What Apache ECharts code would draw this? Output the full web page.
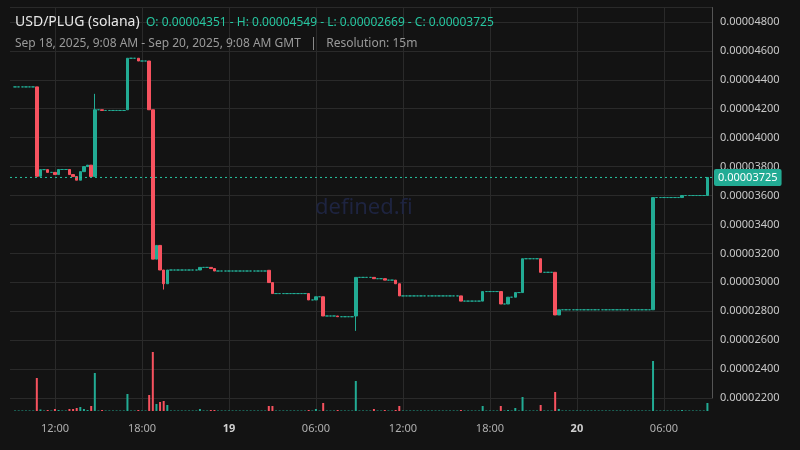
<!DOCTYPE html>
<html><head><meta charset="utf-8">
<script src="https://cdn.jsdelivr.net/npm/echarts@6/dist/echarts.min.js"></script>
<style>html,body{margin:0;background:#131313}#c{width:800px;height:450px}</style>
</head><body><div id="c"></div>
<script>
// Traded candles (values in 1e-6 USD); untraded 15m candles carry the previous close
const evTimes = ['18 10:45','18 11:00','18 11:30','18 12:00','18 12:15','18 13:00','18 13:15','18 13:30','18 13:45','18 14:00','18 14:15','18 14:30','18 14:45','18 15:15','18 17:00','18 17:45','18 18:30','18 18:45','18 19:00','18 19:15','18 19:30','18 19:45','18 22:00','18 22:45','18 23:00','19 02:45','19 03:00','19 05:30','19 06:00','19 06:30','19 07:30','19 08:45','19 10:00','19 10:45','19 11:30','19 11:45','19 16:00','19 17:30','19 18:45','19 19:15','19 19:45','19 20:15','19 21:30','19 22:30','19 22:45','20 05:15','20 07:15','20 09:00'];
const evOpen  = [43.51,37.33,37.79,37.6,37.45,37.8,37.45,37.31,37.06,37.65,38.0,38.1,37.31,41.93,41.93,45.49,45.3,41.93,31.6,32.55,30.85,29.9,30.85,31.03,30.95,30.83,29.98,29.22,28.78,29.0,27.67,27.67,30.34,30.25,30.15,29.9,29.06,28.7,29.36,28.5,28.97,29.29,31.63,30.69,27.74,28.1,35.86,36.0];
const evClose = [37.33,37.79,37.6,37.45,37.8,37.45,37.31,37.06,37.65,38.0,38.1,37.31,41.93,41.88,45.49,45.3,41.93,31.6,32.55,30.85,29.9,30.85,31.03,30.95,30.78,29.98,29.22,28.78,29.0,27.67,27.62,30.34,30.25,30.15,29.9,29.06,28.7,29.36,28.5,28.97,29.29,31.63,30.69,27.74,28.1,35.86,36.0,37.25];
const evHigh  = [43.51,37.79,37.79,37.6,37.8,37.8,37.45,37.31,37.65,38.0,38.1,38.1,43.03,41.93,45.49,45.49,45.3,41.93,32.55,32.55,30.85,30.85,31.03,31.03,30.95,30.83,29.98,29.22,29.0,29.0,27.67,30.34,30.34,30.25,30.15,29.9,29.06,29.36,29.36,28.97,29.29,31.63,31.63,30.69,28.1,35.86,36.0,37.25];
const evLow   = [37.33,37.33,37.6,37.45,37.45,37.45,37.31,37.06,37.06,37.65,38.0,37.31,37.31,41.88,41.93,45.3,41.93,31.6,31.6,30.85,29.5,29.9,30.85,30.95,30.78,29.98,29.22,28.78,28.78,27.67,27.62,26.64,30.25,30.15,29.9,29.06,28.7,28.7,28.5,28.5,28.97,29.29,30.69,27.74,27.74,28.1,35.86,36.0];
const evVol   = [33,1.5,1,2,1,2,2,3,4,2,1,5,38,1,17,1,16,59,7,9,10,6,2,1,1,5,5,1,2,8,1,30,2,1,1,5,1,5,5,1,3,14,6,19,2,50,1,8];
const flatVol = 0.5;
const startTime = '2025-09-18T09:15:00Z';
const candleCount = 192;
const lastPrice = 37.25;
const xTickTimes = ['2025-09-18T12:00:00Z','2025-09-18T18:00:00Z','2025-09-19T00:00:00Z','2025-09-19T06:00:00Z','2025-09-19T12:00:00Z','2025-09-19T18:00:00Z','2025-09-20T00:00:00Z','2025-09-20T06:00:00Z'];

function evKey(s){const [d,hm]=s.split(' ');return Date.parse(`2025-09-${d}T${hm}:00Z`);}
const evMap = {};
evTimes.forEach((t,i)=>evMap[evKey(t)]=i);
const candles=[], vols=[];
let prev = evOpen[0];
const t0 = Date.parse(startTime);
for(let k=0;k<candleCount;k++){
  const t=t0+k*900000;
  const i=evMap[t];
  if(i!==undefined){
    candles.push([t,evOpen[i]*1e-6,evClose[i]*1e-6,evLow[i]*1e-6,evHigh[i]*1e-6]);
    vols.push({value:[t,evVol[i]],itemStyle:{color:evClose[i]<evOpen[i]?'#f7525f':'#22ab94'}});
    prev=evClose[i];
  } else {
    candles.push([t,prev*1e-6,prev*1e-6,prev*1e-6,prev*1e-6]);
    vols.push({value:[t,flatVol],itemStyle:{color:'#22ab94'}});
  }
}
const tMin=Date.parse('2025-09-18T08:54:00Z'), tMax=Date.parse('2025-09-20T09:19:00Z');
const ticks=xTickTimes.map(s=>Date.parse(s));
const up='#22ab94', down='#f7525f';
const chart=echarts.init(document.getElementById('c'));
function xAx(grid,showLabel){
  return {type:'value',gridIndex:grid,min:tMin,max:tMax,
    axisLine:{show:false},
    axisTick:{show:false,customValues:ticks},
    splitLine:{show:true,lineStyle:{color:'#2a2a2a'}},
    axisLabel:{show:showLabel,customValues:ticks,color:'#b0b0b0',fontSize:11,fontFamily:'Noto Sans',margin:12,
     formatter:v=>{const d=new Date(v);const h=d.getUTCHours();if(h===0)return '{b|'+d.getUTCDate()+'}';return String(h).padStart(2,'0')+':00';},
     rich:{b:{fontWeight:'bold',color:'#d0d0d0',fontSize:11}}}};
}
chart.setOption({
  backgroundColor:'#131313',
  animation:false,
  title:[
   {text:'USD/PLUG (solana)',left:10,top:10,textStyle:{color:'#e8e8e8',fontSize:14,fontWeight:'normal',fontFamily:'Noto Sans'}},
   {text:'O: 0.00004351 - H: 0.00004549 - L: 0.00002669 - C: 0.00003725',left:141,top:12,textStyle:{color:'#26c6a0',fontSize:12,fontWeight:'normal',fontFamily:'Noto Sans'}},
   {text:'Sep 18, 2025, 9:08 AM - Sep 20, 2025, 9:08 AM GMT   |   Resolution: 15m',left:10,top:33,textStyle:{color:'#9a9a9a',fontSize:12,fontWeight:'normal',fontFamily:'Noto Sans'}},
   {text:'defined.fi',left:310,top:192,textStyle:{color:'#1e2440',fontSize:22,fontWeight:'normal',fontFamily:'Noto Sans'}}
  ],
  grid:[{left:10,right:88,top:7.5,bottom:52},{left:10,right:88,top:300,bottom:39}],
  xAxis:[xAx(0,false),xAx(1,true)],
  yAxis:[
   {gridIndex:0,position:'right',min:22e-6,max:49e-6,interval:2e-6,
    axisLine:{show:true,lineStyle:{color:'#555'}},axisTick:{show:false},
    splitLine:{lineStyle:{color:'#2a2a2a'}},
    axisLabel:{color:'#c8c8c8',fontSize:11,fontFamily:'Noto Sans',margin:8,showMaxLabel:false,formatter:v=>v.toFixed(8)}},
   {gridIndex:1,min:0,max:111,show:false,splitLine:{show:false}}
  ],
  series:[
   {type:'candlestick',xAxisIndex:0,yAxisIndex:0,data:candles,barWidth:3,z:3,
    itemStyle:{color:up,color0:down,borderColor:up,borderColor0:down,borderWidth:1}},
   {type:'line',xAxisIndex:0,yAxisIndex:0,data:[[tMin,lastPrice*1e-6],[tMax,lastPrice*1e-6]],
    symbol:'none',silent:true,z:4,lineStyle:{color:'#26c6a0',type:[2,3],width:1},
    endLabel:{show:true,formatter:()=>(lastPrice*1e-6).toFixed(8),backgroundColor:'#22ab94',color:'#fff',padding:[3,4],fontSize:11,fontFamily:'Noto Sans',borderRadius:2,distance:2}},
   {type:'bar',xAxisIndex:1,yAxisIndex:1,data:vols,barWidth:2}
  ]
});
</script></body></html>
